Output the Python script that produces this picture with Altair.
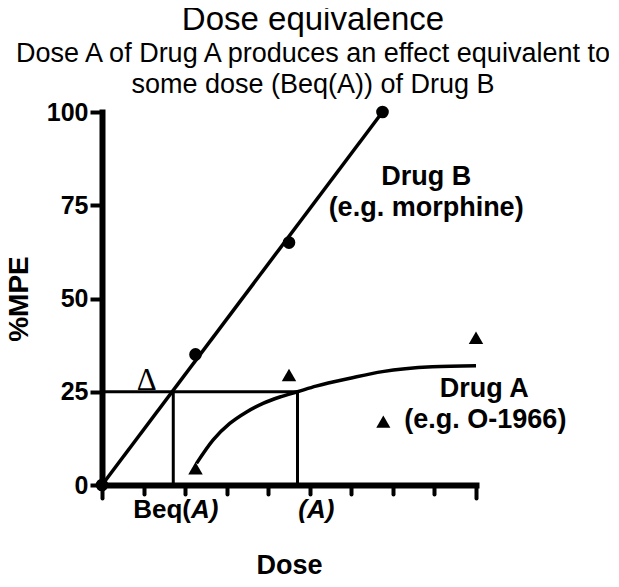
import altair as alt
import pandas as pd

# ---- data ----
drug_b_dose = [0, 4.5, 9, 13.5]
drug_b_mpe = [0, 35, 65, 100]
drug_a_dose = [4.5, 9, 18]
drug_a_mpe = [4.5, 29.5, 39.5]

fit_b_dose = [0, 13.5]
fit_b_mpe = [0, 100]
fit_a_dose = [4.55, 5.35, 6.15, 6.96, 7.75, 8.56, 9.41, 10.3, 12.0, 13.5, 15.9, 18.0]
fit_a_mpe = [5.8, 12.1, 16.5, 19.6, 21.9, 23.6, 25.0, 26.5, 28.7, 30.4, 31.7, 32.0]

beq_dose = 3.43
a_dose = 9.41
equi_effect = 25

x_ticks = list(range(0, 19))
y_ticks = [0, 25, 50, 75, 100]

label_text = ["Drug B", "(e.g. morphine)", "Drug A", "(e.g. O-1966)"]
label_x = [15.6, 15.6, 18.4, 18.45]
label_y = [80.4, 72.1, 23.65, 15.3]

FONT = "Liberation Sans"

xs = alt.Scale(domain=[0, 18], nice=False, zero=False)
ys = alt.Scale(domain=[0, 100], nice=False, zero=False)

x_axis = alt.Axis(
    values=x_ticks, labels=False, title="Dose", grid=False,
    titleFont=FONT, titleFontSize=27, titleFontWeight="bold", titleColor="black",
    titlePadding=52,
    tickSize={"condition": {"test": "datum.value % 9 === 0", "value": 13}, "value": 9},
    tickWidth=4, tickColor="black", tickCap="round",
    domainWidth=6, domainColor="black", domainCap="square",
)
y_axis = alt.Axis(
    values=y_ticks, title="%MPE", grid=False,
    labelFont=FONT, labelFontSize=25, labelFontWeight="bold", labelColor="black",
    labelPadding=2,
    titleFont=FONT, titleFontSize=28, titleFontWeight="bold", titleColor="black",
    titlePadding=13,
    tickSize=12, tickWidth=4, tickColor="black",
    domainWidth=6, domainColor="black", domainCap="square",
)

fit_b = pd.DataFrame({"dose": fit_b_dose, "mpe": fit_b_mpe})
fit_a = pd.DataFrame({"dose": fit_a_dose, "mpe": fit_a_mpe})
pts_b = pd.DataFrame({"dose": drug_b_dose, "mpe": drug_b_mpe})
pts_a = pd.DataFrame({"dose": drug_a_dose, "mpe": drug_a_mpe})

line_b = alt.Chart(fit_b).mark_line(color="black", strokeWidth=3.5).encode(
    x=alt.X("dose:Q", scale=xs, axis=x_axis),
    y=alt.Y("mpe:Q", scale=ys, axis=y_axis),
)
line_a = alt.Chart(fit_a).mark_line(color="black", strokeWidth=3.5, interpolate="monotone").encode(
    x=alt.X("dose:Q", scale=xs), y=alt.Y("mpe:Q", scale=ys)
)

hline = alt.Chart(pd.DataFrame({"x0": [0], "x1": [a_dose], "y": [equi_effect]})).mark_rule(
    color="black", strokeWidth=3
).encode(x=alt.X("x0:Q", scale=xs), x2="x1:Q", y=alt.Y("y:Q", scale=ys))

vlines = alt.Chart(pd.DataFrame({"x": [beq_dose, a_dose], "y0": [0, 0], "y1": [equi_effect, equi_effect]})).mark_rule(
    color="black", strokeWidth=3
).encode(x=alt.X("x:Q", scale=xs), y=alt.Y("y0:Q", scale=ys), y2="y1:Q")

circles = alt.Chart(pts_b).mark_point(shape="circle", filled=True, color="black", size=160, opacity=1).encode(
    x=alt.X("dose:Q", scale=xs), y=alt.Y("mpe:Q", scale=ys)
)
triangles = alt.Chart(pts_a).mark_point(shape="triangle-up", filled=True, color="black", size=210, opacity=1).encode(
    x=alt.X("dose:Q", scale=xs), y=alt.Y("mpe:Q", scale=ys)
)
legend_tri = alt.Chart(pd.DataFrame({"dose": [13.54], "mpe": [16.96]})).mark_point(
    shape="triangle-up", filled=True, color="black", size=200, opacity=1
).encode(x=alt.X("dose:Q", scale=xs), y=alt.Y("mpe:Q", scale=ys))

labels = alt.Chart(pd.DataFrame({"t": label_text, "x": label_x, "y": label_y})).mark_text(
    font=FONT, fontSize=27, fontWeight="bold", color="black", align="center", baseline="alphabetic"
).encode(x=alt.X("x:Q", scale=xs), y=alt.Y("y:Q", scale=ys), text="t:N")

beq_left = alt.Chart(pd.DataFrame({"t": ["Beq("], "x": [4.28], "y": [-8.9]})).mark_text(
    font=FONT, fontSize=26, fontWeight="bold", color="black", align="right", baseline="alphabetic"
).encode(x=alt.X("x:Q", scale=xs), y=alt.Y("y:Q", scale=ys), text="t:N")
beq_right = alt.Chart(pd.DataFrame({"t": ["A)", "(A)"], "x": [4.28, 9.45], "y": [-8.9, -8.9]})).mark_text(
    font=FONT, fontSize=26, fontWeight="bold", fontStyle="italic", color="black", align="left", baseline="alphabetic"
).encode(x=alt.X("x:Q", scale=xs), y=alt.Y("y:Q", scale=ys), text="t:N")

delta = alt.Chart(pd.DataFrame({"t": ["Δ"], "x": [2.15], "y": [25.5]})).mark_text(
    font="Liberation Serif", fontSize=31, color="black", align="center", baseline="alphabetic"
).encode(x=alt.X("x:Q", scale=xs), y=alt.Y("y:Q", scale=ys), text="t:N")

chart = alt.layer(
    hline, vlines, line_b, line_a, circles, triangles, legend_tri, labels, beq_left, beq_right, delta
).properties(
    width=374,
    height=373,
    background="white",
    autosize=alt.AutoSizeParams(type="none"),
    padding={"left": 94, "top": 104, "right": 133, "bottom": 92},
    title=alt.TitleParams(
        text="Dose equivalence",
        subtitle=["Dose A of Drug A produces an effect equivalent to", "some dose (Beq(A)) of Drug B"],
        font=FONT, fontSize=33, fontWeight="normal", color="black",
        subtitleFont=FONT, subtitleFontSize=27, subtitleColor="black",
        subtitleLineHeight=31.5, subtitlePadding=4,
        anchor="middle", dx=24, offset=2,
    ),
).configure_view(strokeWidth=0)

chart.save("out.html", embed_options={"renderer": "svg", "actions": False})
